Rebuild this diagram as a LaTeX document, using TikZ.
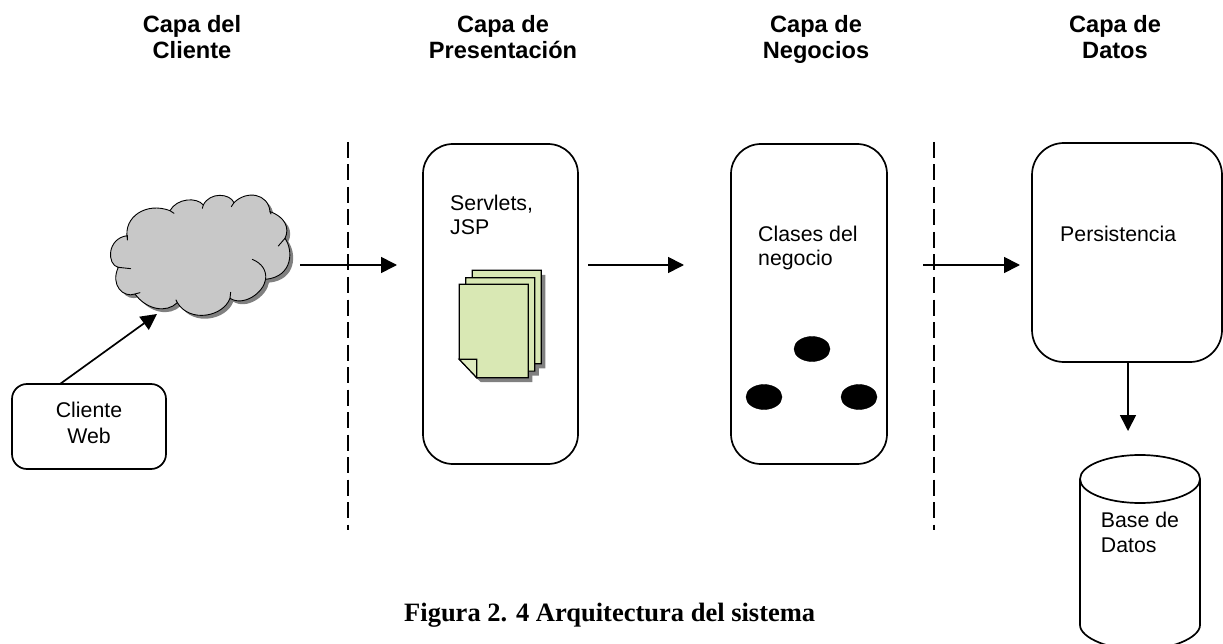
\documentclass[tikz,border=0pt]{standalone}
\usepackage{fontspec}
\setmainfont{Liberation Sans}
\newfontfamily\capfont{Liberation Serif}
\usetikzlibrary{arrows.meta,shapes.geometric}
\definecolor{cloudgray}{HTML}{C8C8C8}
\definecolor{shadowgray}{HTML}{808080}
\definecolor{pagegreen}{HTML}{D9E8B4}
\tikzset{
  x=1pt,y=-1pt,
  line/.style={line width=1.7pt,black},
  arrow/.style={line,-{Triangle[length=16pt,width=16pt]}},
  sepline/.style={line,dash pattern=on 16pt off 6.5pt},
  box/.style={draw,line width=1.7pt,rectangle,rounded corners=#1,anchor=north west,inner sep=0pt,outer sep=0pt},
  head/.style={font=\fontsize{23.6}{26.3}\selectfont\bfseries,align=center,inner sep=0pt,anchor=base},
  txt/.style={font=\fontsize{21.3}{24.2}\selectfont,align=left,inner sep=0pt,anchor=base west},
  blob/.style={ellipse,fill=black,draw=black,minimum width=36pt,minimum height=25pt,inner sep=0pt},
  ghost/.style={inner sep=0pt,outer sep=0pt},
  page/.style={fill=pagegreen,draw=black,line width=1.2pt},
}
\newcommand{\cloudpath}{(112,205) .. controls (100,140) and (170,95) .. (240,122)
 .. controls (260,85) and (320,80) .. (340,105)
 .. controls (360,65) and (420,70) .. (432,98)
 .. controls (470,60) and (535,70) .. (540,125)
 .. controls (585,140) and (600,175) .. (585,205)
 .. controls (610,240) and (610,320) .. (527,328)
 .. controls (520,370) and (460,410) .. (420,385)
 .. controls (400,440) and (300,460) .. (262,398)
 .. controls (230,430) and (170,420) .. (135,372)
 .. controls (100,385) and (60,345) .. (85,292)
 .. controls (50,285) and (50,205) .. (112,197) -- cycle}
\newcommand{\pageshape}{(459.3,284.3) -- (528.3,284.3) -- (528.3,377.7) -- (476.7,377.7) -- (459.3,359.3) -- cycle}
\begin{document}
\begin{tikzpicture}
\useasboundingbox (0,0) rectangle (1223,644);
% headers
\node[head] (h1) at (192,59) {Capa del\\Cliente};
\node[head] (h2) at (503,59) {Capa de\\Presentación};
\node[head] (h3) at (816,59) {Capa de\\Negocios};
\node[head] (h4) at (1115,59) {Capa de\\Datos};
% separators
\coordinate (s1a) at (348,142); \coordinate (s1b) at (348,530);
\coordinate (s2a) at (934,142); \coordinate (s2b) at (934,530);
\draw[sepline] (s1a) -- (s1b);
\draw[sepline] (s2a) -- (s2b);
% boxes
\node[box=30pt,minimum width=155pt,minimum height=320pt] (pres) at (423,144) {};
\node[box=30pt,minimum width=156pt,minimum height=320pt] (neg) at (731,144) {};
\node[box=32pt,minimum width=190pt,minimum height=219pt] (pers) at (1032,143) {};
\node[box=15pt,minimum width=154pt,minimum height=85pt] (web) at (12,384) {};
\node[font=\fontsize{21.3}{25.3}\selectfont,align=center,inner sep=0pt,anchor=base] (webtxt) at (89,443) {Cliente\\Web};
% cloud
\begin{scope}[shift={(90,170)},x=0.3333pt,y=-0.3333pt]
\fill[shadowgray,shift={(10,10)}] \cloudpath;
\path[fill=cloudgray,draw=black,line width=0.9pt,line join=round] \cloudpath;
\draw[line width=0.9pt,line cap=round]
  (112,197) -- (112,210)
  (240,122) -- (252,130)
  (340,105) -- (337,115)
  (432,98) -- (424,110)
  (540,125) -- (543,132)
  (585,205) -- (565,228)
  (487,268) .. controls (515,280) and (530,300) .. (527,328)
  (420,385) -- (422,367)
  (262,398) -- (258,390)
  (135,372) -- (150,368)
  (85,292) -- (122,296);
\end{scope}
\node[ghost,minimum width=210pt,minimum height=100pt] (cloud) at (195,265) {};
% pages
\fill[shadowgray,shift={(17,-9.3)}] \pageshape;
\fill[shadowgray,shift={(10.5,-2)}] \pageshape;
\fill[shadowgray,shift={(4,4.5)}] \pageshape;
\draw[page,shift={(13,-14)}] \pageshape;
\draw[page,shift={(6.5,-6.6)}] \pageshape;
\draw[page] \pageshape;
\draw[page,fill=pagegreen!85!white] (459.3,359.3) -- (476.7,359.3) -- (476.7,377.7) -- cycle;
\node[ghost,minimum width=69pt,minimum height=93pt] (pages) at (500,324) {};
% blobs
\node[blob] (b1) at (812,349) {};
\node[blob] (b2) at (764,397) {};
\node[blob] (b3) at (859,397) {};
% cylinder
\path[fill=white,draw=black,line width=1.7pt] (1080,479) -- (1080,625) .. controls (1080,638) and (1110,650) .. (1140,650) .. controls (1170,650) and (1200,638) .. (1200,625) -- (1200,479);
\draw[line width=1.7pt] (1140,479) ellipse [x radius=60pt,y radius=24pt];
\node[ghost,minimum width=120pt,minimum height=195pt] (db) at (1140,552) {};
% labels
\node[txt] (t1) at (450,235) {Servlets,\\JSP};
\node[txt] (t2) at (758,265.7) {Clases del\\negocio};
\node[txt] (t3) at (1060,242) {Persistencia};
\node[txt] (t4) at (1100.7,552) {Base de\\Datos};
\node[font=\capfont\fontsize{26.5}{30}\selectfont\bfseries,inner sep=0pt,anchor=base west] (cap) at (404,621.7) {Figura 2. 4 Arquitectura del sistema};
% connectors
\draw[arrow,shorten >=26pt] (cloud.east) -- (pres.west |- cloud.east);
\draw[arrow,shorten <=10pt,shorten >=47pt] (pres.east |- cloud.east) -- (neg.west |- cloud.east);
\draw[arrow,shorten <=36pt,shorten >=12pt] (neg.east |- cloud.east) -- (pers.west |- cloud.east);
\coordinate (cloudfoot) at (157,314);
\coordinate (webtop) at (60,384);
\draw[arrow] (webtop) -- (cloudfoot);
\coordinate (dbtop) at (1128,431);
\coordinate (persfoot) at (1128,362);
\draw[arrow] (persfoot) -- (dbtop);
\end{tikzpicture}
\end{document}
